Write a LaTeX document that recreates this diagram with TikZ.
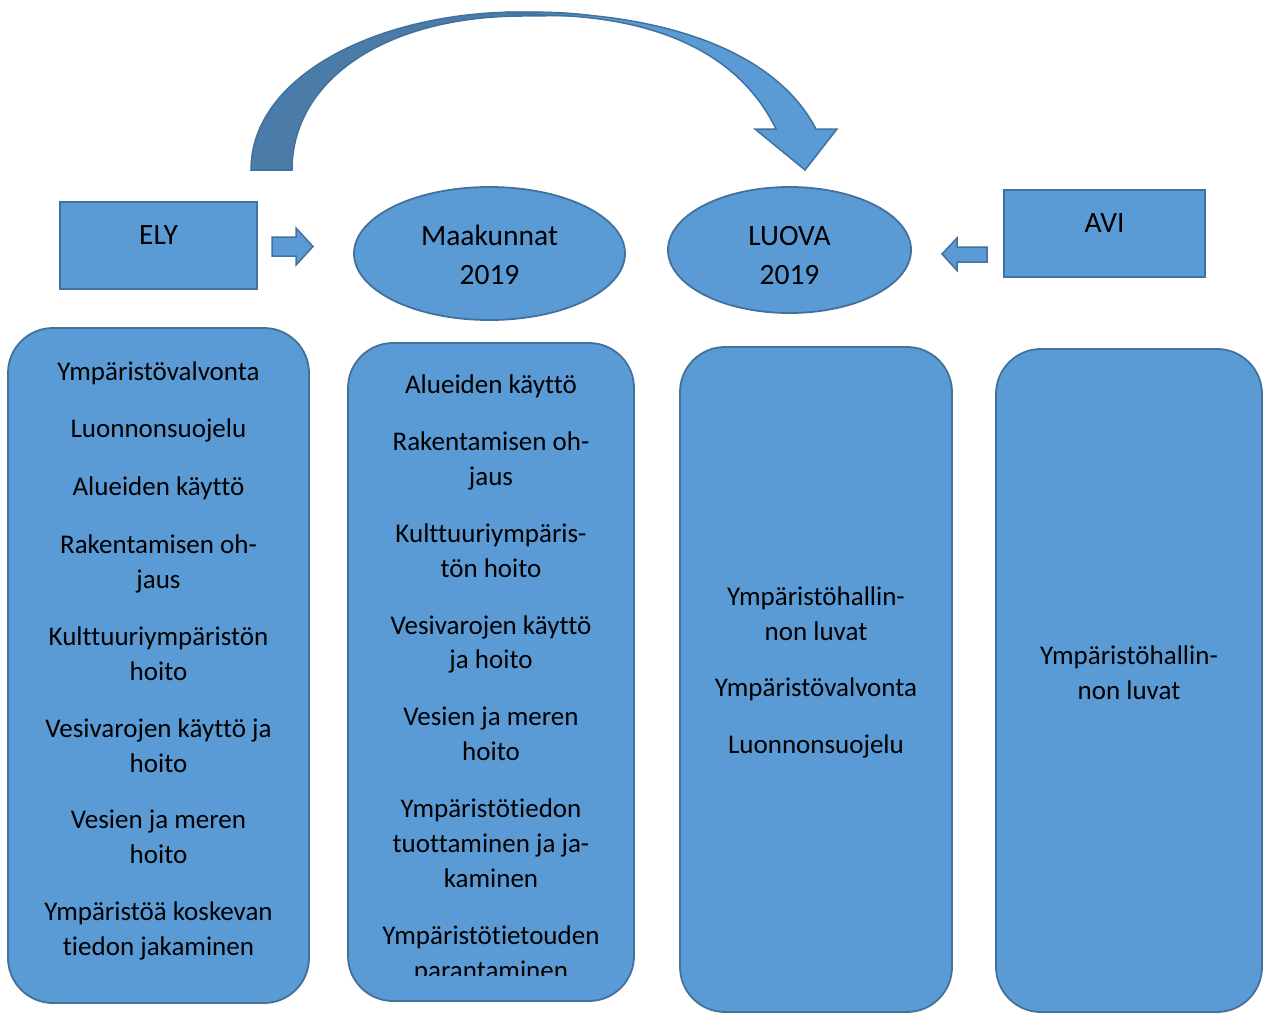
\documentclass[tikz,border=0pt]{standalone}
\usepackage{fontspec}
\setmainfont{Carlito}[Ligatures=NoCommon]
\usetikzlibrary{shapes.geometric}
\definecolor{fillblue}{HTML}{5B9BD5}
\definecolor{edgeblue}{HTML}{41719C}
\definecolor{darkband}{HTML}{4A7BA9}
\tikzset{
  shp/.style={fill=fillblue,draw=edgeblue,line width=1.8pt},
  rbox/.style={shp,rounded corners=45pt},
  txt/.style={anchor=base,inner sep=0pt,font=\fontsize{27}{35}\selectfont},
  htxt/.style={anchor=base,inner sep=0pt,font=\fontsize{29.5}{39}\selectfont}
}
\begin{document}
\begin{tikzpicture}[x=1pt,y=-1pt]
\useasboundingbox (0,0) rectangle (1270,1013);

% curved arrow: back band
\path[fill=darkband,draw=edgeblue,line width=1.5pt]
  (251,170) .. controls (251,75) and (380,12) .. (520,12)
  .. controls (550,12) and (575,13) .. (592,16)
  .. controls (565,15) and (545,16) .. (520,16)
  .. controls (385,17) and (292,80) .. (292,170) -- cycle;
% curved arrow: front band with head
\path[shp,line width=1.5pt]
  (505,12.5) .. controls (660,9) and (775,50) .. (816,129)
  -- (837,129) -- (805,170) -- (755,129) -- (776,129)
  .. controls (740,55) and (660,17) .. (545,15)
  .. controls (530,14) and (515,13) .. (505,12.5) -- cycle;

% header shapes
\node[shp,draw,minimum width=197pt,minimum height=87pt,inner sep=0pt] (ely) at (158.5,245.5) {};
\node[htxt] (elyt) at (158.5,244) {ELY};
\node[shp,ellipse,draw,minimum width=271pt,minimum height=133pt,inner sep=0pt] (maak) at (489.5,253.5) {};
\node[htxt] (maakt1) at (489.5,245) {Maakunnat};
\node[htxt] (maakt2) at (489.5,284) {2019};
\node[shp,ellipse,draw,minimum width=243pt,minimum height=126pt,inner sep=0pt] (luova) at (789.5,250) {};
\node[htxt] (luovat1) at (789.5,245) {LUOVA};
\node[htxt] (luovat2) at (789.5,284) {2019};
\node[shp,draw,minimum width=201pt,minimum height=87pt,inner sep=0pt] (avi) at (1104.5,233.5) {};
\node[htxt] (avit) at (1104.5,232) {AVI};

% block arrows
\path[shp,line width=1.5pt] (272,237) -- (296,237) -- (296,228) -- (313,246.5) -- (296,265) -- (296,256) -- (272,256) -- cycle;
\path[shp,line width=1.5pt] (987,247) -- (957,247) -- (957,238) -- (942,254) -- (957,270.5) -- (957,262) -- (987,262) -- cycle;

% rounded boxes
\path[rbox] (8,328) rectangle (309,1003);
\path[rbox] (348,343) rectangle (634,1001);
\path[rbox] (680,347) rectangle (952,1012);
\path[rbox] (996,349) rectangle (1262,1012);

% box 1 texts
\foreach \yy/\txx [count=\k] in {380/Ympäristövalvonta,437/Luonnonsuojelu,495/Alueiden käyttö,553/Rakentamisen oh-,588/jaus,645/Kulttuuriympäristön,680/hoito,737/Vesivarojen käyttö ja,772/hoito,828/Vesien ja meren,863/hoito,920/Ympäristöä koskevan,955/tiedon jakaminen}
  \node[txt] (ba\k) at (158.5,\yy) {\txx};

% box 2 texts
\foreach \yy/\txx [count=\k] in {393/Alueiden käyttö,450/Rakentamisen oh-,485/jaus,542/Kulttuuriympäris-,577/tön hoito,634/Vesivarojen käyttö,668/ja hoito,725/Vesien ja meren,760/hoito,817/Ympäristötiedon,852/tuottaminen ja ja-,887/kaminen,944/Ympäristötietouden}
  \node[txt] (bb\k) at (491,\yy) {\txx};
\begin{scope}
  \clip (348,343) rectangle (634,975);
  \node[txt] (bbl) at (491,979) {parantaminen};
\end{scope}

% box 3 texts
\foreach \yy/\txx [count=\k] in {605/Ympäristöhallin-,640/non luvat,696/Ympäristövalvonta,753/Luonnonsuojelu}
  \node[txt] (bc\k) at (816,\yy) {\txx};

% box 4 texts
\foreach \yy/\txx [count=\k] in {664/Ympäristöhallin-,699/non luvat}
  \node[txt] (bd\k) at (1129,\yy) {\txx};
\end{tikzpicture}
\end{document}
